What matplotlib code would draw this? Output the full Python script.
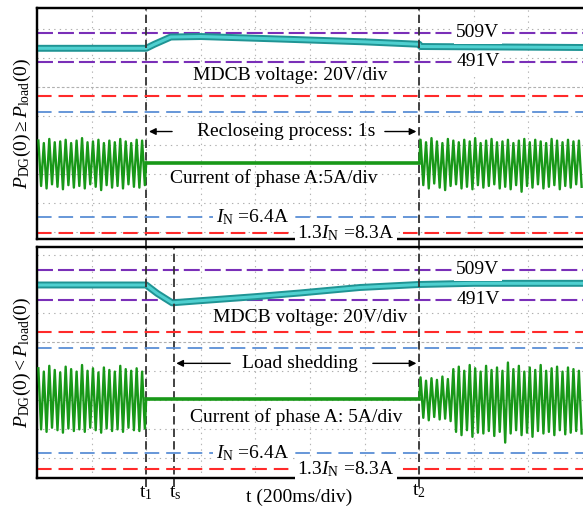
import numpy as np
import matplotlib.pyplot as plt

plt.rcParams.update({'font.family': 'Liberation Serif', 'font.size': 14,
                     'mathtext.fontset': 'custom',
                     'mathtext.rm': 'Liberation Serif',
                     'mathtext.it': 'Liberation Serif:italic',
                     'lines.scale_dashes': False})

# event times (ms), 200 ms/div, 10 div on screen
t1 = 400
ts = 500
t2 = 1400
t_end = 2000

# MDCB voltage, upper case P_DG(0) >= P_load(0)
volt1_t = [0, 400, 430, 490, 600, 900, 1200, 1400, 1405, 2000]
volt1_v = [499.5, 499.5, 502.0, 506.5, 506.8, 505.2, 503.5, 502.0, 500.6, 500.0]

# MDCB voltage, lower case P_DG(0) < P_load(0)
volt2_t = [0, 400, 440, 495, 600, 800, 963, 1183, 1400, 1600, 2000]
volt2_v = [500.0, 500.0, 495.0, 489.3, 490.6, 493.0, 495.2, 498.5, 500.3, 501.0, 501.0]

# phase A current, peak / trough of each 20 ms cycle (A)
cur1_pre_pk = [2.9, 2.6, 3.1, 2.7, 2.8, 3.0, 2.6, 2.9, 3.2, 2.7,
               2.8, 3.0, 2.6, 2.9, 2.7, 3.1, 2.8, 2.6, 3.0, 2.9]
cur1_pre_tr = [-2.6, -2.9, -2.4, -2.7, -3.0, -2.5, -2.8, -2.6, -2.9, -2.4,
               -2.7, -3.1, -2.5, -2.8, -2.6, -2.9, -2.4, -2.7, -2.8, -2.5]
cur1_post_pk = [3.0, 2.7, 3.2, 2.8, 2.6, 3.1, 2.9, 2.7, 3.0, 2.8,
                3.2, 2.6, 2.9, 3.1, 2.7, 2.8, 3.0, 2.6, 2.9, 3.1,
                2.7, 3.0, 2.8, 2.6, 3.1, 2.9, 2.7, 3.0, 2.8, 2.9]
cur1_post_tr = [-2.5, -2.9, -2.3, -2.8, -3.1, -2.6, -2.4, -2.9, -2.7, -3.0,
                -2.5, -2.8, -2.6, -2.4, -2.9, -2.7, -3.0, -2.5, -3.3, -2.6,
                -2.8, -2.4, -2.9, -2.7, -2.5, -3.0, -2.6, -2.8, -2.4, -2.7]
cur1_flat = 0.2

cur2_pre_pk = [3.9, 3.5, 4.2, 3.7, 3.4, 4.1, 3.8, 3.5, 4.3, 3.6,
               3.9, 3.4, 4.0, 3.7, 3.5, 4.2, 3.8, 3.6, 3.9, 3.5]
cur2_pre_tr = [-3.5, -3.8, -3.3, -3.6, -3.9, -3.4, -3.7, -3.5, -3.8, -3.3,
               -3.6, -3.9, -3.4, -3.7, -3.5, -3.8, -3.3, -3.6, -3.7, -3.4]
cur2_post_pk = [2.8, 2.4, 2.7, 2.5, 2.9, 2.6, 3.8, 4.1, 3.6, 4.3,
                3.9, 3.5, 4.2, 3.7, 4.0, 3.6, 4.6, 3.8, 4.2, 3.5,
                4.0, 3.7, 4.3, 3.6, 3.9, 4.1, 3.5, 4.0, 3.8, 3.6]
cur2_post_tr = [-2.1, -2.4, -2.0, -2.3, -2.2, -2.5, -3.8, -4.2, -3.6, -4.4,
                -3.9, -4.0, -3.7, -4.3, -3.8, -5.1, -4.0, -3.6, -4.2, -3.9,
                -4.4, -3.7, -4.0, -3.8, -4.2, -3.6, -4.1, -3.9, -3.7, -4.0]
cur2_flat = 0.2

v_hi, v_lo = 509, 491
i_n, i_max = 6.4, 8.3

PURPLE = '#7a2fb8'
RED = '#ff2a2a'
BLUE = '#5b8fd6'
GREEN = '#189818'


def zigzag(t0, peaks, troughs):
    t, i = [], []
    for k, (p, q) in enumerate(zip(peaks, troughs)):
        t += [t0 + 20 * k + 5, t0 + 20 * k + 15]
        i += [p, q]
    return t, i


def white_text(ax, x, y, s, **kw):
    ax.text(x, y, s, ha='center', va='center', zorder=6,
            bbox=dict(facecolor='white', edgecolor='none', pad=1.5), **kw)


def draw_panel(ax, vlim, ilim, vt, vv, pre, post, flat, grid_c, lines_ts,
               mdcb_xy, cur_text, cur_xy, arrow_text, arrow_xy, arrow_l, arrow_r, ylabel):
    ax.set_xlim(0, t_end)
    ax.set_ylim(*vlim)
    axc = ax.twinx()
    axc.set_ylim(*ilim)
    for a in (ax, axc):
        a.set_xticks([])
        a.set_yticks([])
        for sp in a.spines.values():
            sp.set_linewidth(1.6)
    axc.spines['right'].set_visible(False)
    ax.spines['right'].set_visible(False)

    # scope grid
    for d in range(1, 10):
        ax.axvline(d * 200, color='#b5b5b5', lw=0.8, ls=(0, (1, 3)), zorder=0)
    for k in range(-6, 7):
        f = grid_c + k * 0.1255
        if 0.02 < f < 0.98:
            ax.plot([0, 1], [f, f], transform=ax.transAxes, color='#b0b0b0',
                    lw=0.8, ls=(0, (1, 3)) if k else (0, (2, 1.5)), zorder=0)

    # limit lines
    ax.axhline(v_hi, color=PURPLE, lw=1.5, dashes=(11.5, 3.6), zorder=2)
    ax.axhline(v_lo, color=PURPLE, lw=1.5, dashes=(11.5, 3.6), zorder=2)
    for s in (1, -1):
        axc.axhline(s * i_max, color=RED, lw=1.5, dashes=(10.5, 5), zorder=2)
        axc.axhline(s * i_n, color=BLUE, lw=1.3, dashes=(10.5, 5), zorder=2)

    # voltage trace
    ax.plot(vt, vv, color='#1f9494', lw=5.0, zorder=3, solid_joinstyle='round')
    ax.plot(vt, vv, color='#4fd0d0', lw=2.2, zorder=3)

    # current trace
    tp, ip = zigzag(0, *pre)
    axc.plot(tp + [t1], ip + [flat], color=GREEN, lw=1.7, zorder=3)
    axc.plot([t1, t2], [flat, flat], color=GREEN, lw=2.6, zorder=3)
    tq, iq = zigzag(t2, *post)
    axc.plot([t2] + tq, [flat] + iq, color=GREEN, lw=1.7, zorder=3)

    # event lines
    for t in lines_ts:
        ax.axvline(t, color='#333333', lw=1.3, dashes=(6, 3), zorder=4,
                   ymin=-0.04, clip_on=False)

    # annotations
    white_text(ax, 1615, v_hi, '509V')
    white_text(ax, 1615, v_lo, '491V')
    ax.text(*mdcb_xy, 'MDCB voltage: 20V/div', ha='center', va='center', zorder=6)
    axc.text(*cur_xy, cur_text, ha='center', va='center', zorder=6)
    axc.text(*arrow_xy, arrow_text, ha='center', va='center', zorder=6)
    axc.annotate('', xy=(arrow_l[0], arrow_xy[1]), xytext=(arrow_l[1], arrow_xy[1]),
                 arrowprops=dict(arrowstyle='-|>', color='black', lw=1, mutation_scale=10))
    axc.annotate('', xy=(arrow_r[1], arrow_xy[1]), xytext=(arrow_r[0], arrow_xy[1]),
                 arrowprops=dict(arrowstyle='-|>', color='black', lw=1, mutation_scale=10))
    white_text(axc, 788, -i_n, r'$I_{\mathrm{N}}$ =6.4A')
    white_text(axc, 1132, -i_max, r'1.3$I_{\mathrm{N}}$ =8.3A')
    ax.set_ylabel(ylabel, fontsize=14, labelpad=3)
    return axc


fig = plt.figure(figsize=(5.83, 5.08), dpi=100)
ax1 = fig.add_axes([37 / 583, 0.5295, 1 - 37 / 583, 0.4547])
ax2 = fig.add_axes([37 / 583, 0.0591, 1 - 37 / 583, 0.4547])

draw_panel(ax1, (381.1, 524.5), (-9.03, 18.97), volt1_t, volt1_v,
           (cur1_pre_pk, cur1_pre_tr), (cur1_post_pk, cur1_post_tr), cur1_flat,
           0.658, [t1, t2], (927, 482.9), 'Current of phase A:5A/div', (868, -1.6),
           'Recloseing process: 1s', (912, 4.0), (t1, 505), (1264, t2),
           r'$P_{\mathrm{DG}}(0)\geq P_{\mathrm{load}}(0)$')
draw_panel(ax2, (384.2, 522.8), (-9.39, 18.6), volt2_t, volt2_v,
           (cur2_pre_pk, cur2_pre_tr), (cur2_post_pk, cur2_post_tr), cur2_flat,
           0.589, [t1, ts, t2], (1000, 480.2), 'Current of phase A: 5A/div', (949, -2.0),
           'Load shedding', (963, 4.5), (ts, 718), (1220, t2),
           r'$P_{\mathrm{DG}}(0)<P_{\mathrm{load}}(0)$')

xt = ax2.get_xaxis_transform()
ax2.text(t1, -0.065, r'$\mathrm{t}_1$', transform=xt, ha='center', va='center')
ax2.text(ts + 8, -0.065, r'$\mathrm{t}_\mathrm{s}$', transform=xt, ha='center', va='center')
ax2.text(t2, -0.058, r'$\mathrm{t}_2$', transform=xt, ha='center', va='center')
ax2.text(960, -0.085, 't (200ms/div)', transform=xt, ha='center', va='center')

fig.savefig('out.png', dpi=100)
